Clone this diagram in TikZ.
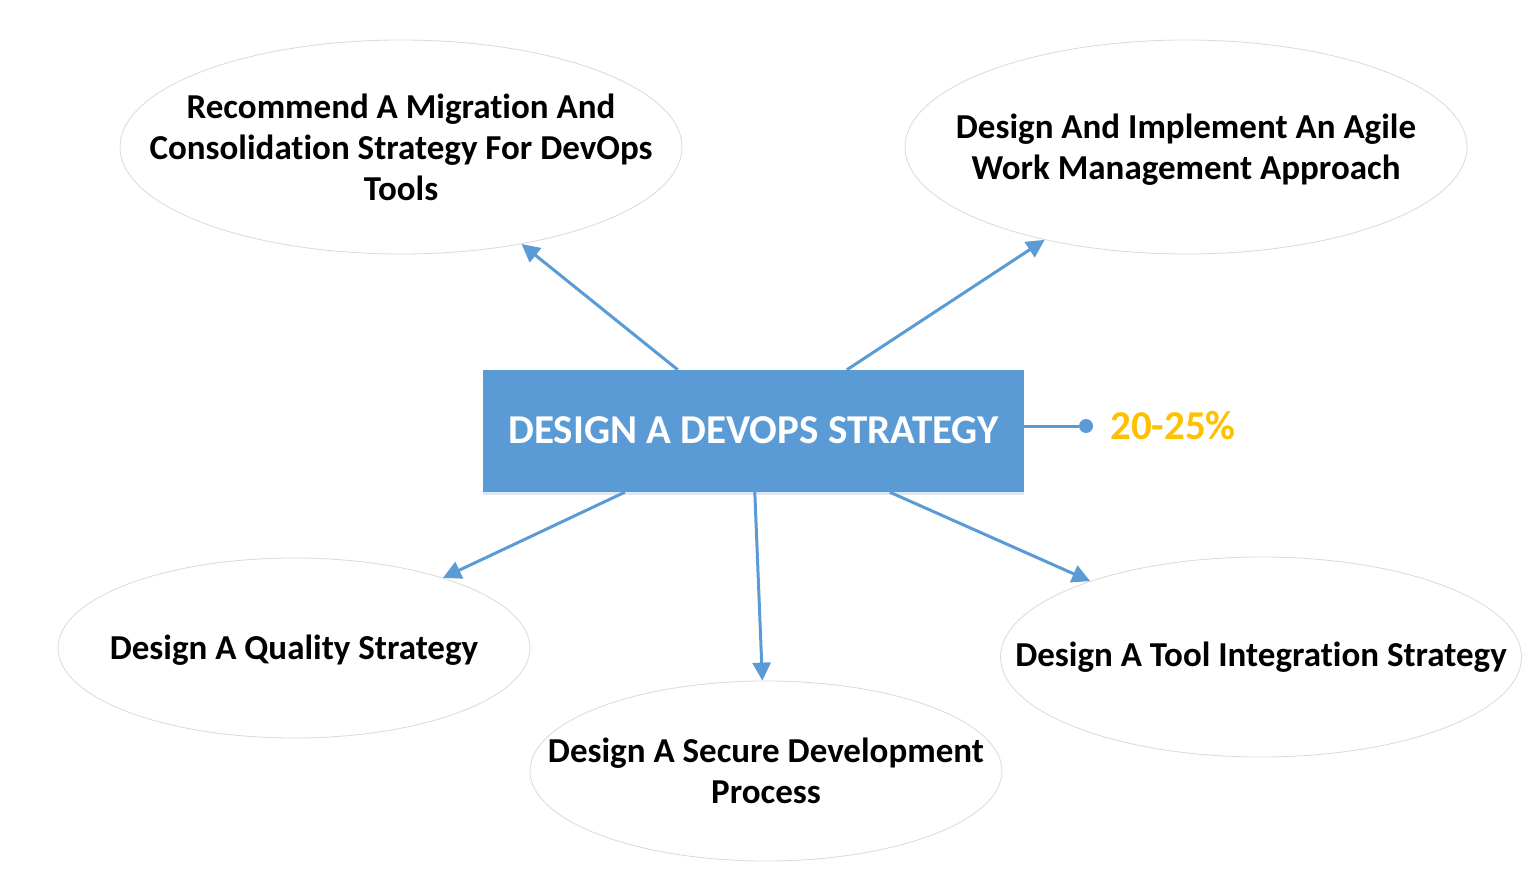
\documentclass[tikz,border=0pt]{standalone}
\usepackage{fontspec}
\setmainfont{Carlito}[Ligatures=NoCommon]
\usepackage{xcolor}
\usetikzlibrary{shapes.geometric,arrows.meta,shadows}
\definecolor{boxblue}{HTML}{5B9BD5}
\definecolor{gold}{HTML}{FFC000}
\definecolor{rimgray}{HTML}{D9D9D9}
\tikzset{topic/.style={ellipse,draw=rimgray,line width=0.8pt,inner sep=0pt},
    topictext/.style={align=center,font=\bfseries\fontsize{35}{41}\selectfont},
    core/.style={fill=boxblue,text=white,minimum width=541pt,
    minimum height=122pt,inner sep=0pt,font=\bfseries\fontsize{41}{46}\selectfont,
    drop shadow={opacity=0.2,shadow xshift=0pt,shadow yshift=-3pt,fill=boxblue!70!gray}},
    link/.style={draw=boxblue,line width=3pt,-{Triangle[length=18pt,width=18pt]}}}

\begin{document}
\begin{tikzpicture}[x=1pt,y=-1pt]
    \useasboundingbox (0,0) rectangle (1536,877);
    \node[core] (box) at (753.5,431) {\raisebox{1pt}{DESIGN A DEVOPS STRATEGY}};
    \node[topic,minimum width=562pt,minimum height=214pt,
        label={[topictext]center:Recommend A Migration And\\Consolidation Strategy For DevOps\\Tools}]
        (migrate) at (401,147) {};
    \node[topic,minimum width=562pt,minimum height=214pt,
        label={[topictext,yshift=-3pt]center:Design And Implement An Agile\\Work Management Approach}]
        (agile) at (1186,147) {};
    \node[topic,minimum width=472pt,minimum height=180pt,
        label={[topictext,yshift=-2pt]center:Design A Quality Strategy}]
        (quality) at (294,648) {};
    \node[topic,minimum width=472pt,minimum height=180pt,
        label={[topictext]center:Design A Secure Development\\Process}]
        (secure) at (766,771) {};
    \node[topic,minimum width=521pt,minimum height=200pt,
        label={[topictext]center:Design A Tool Integration Strategy}]
        (tools) at (1261,657) {};
    % weight of the domain
    \node[circle,fill=boxblue,inner sep=0pt,minimum size=14pt] (dot) at (1086,426) {};
    \node[text=gold,font=\bfseries\fontsize{41}{46}\selectfont] (share) at (1173,426) {20-25\%};
    \draw[draw=boxblue,line width=3pt] ([yshift=5pt]box.east) -- (dot);
    % arrows to the topics
    \draw[link] ([xshift=195pt]box.north west) -- (migrate);
    \draw[link] ([xshift=364pt]box.north west) -- (agile);
    \draw[link] ([xshift=142pt]box.south west) -- (quality);
    \draw[link] ([xshift=272pt]box.south west) -- (secure);
    \draw[link] ([xshift=407pt]box.south west) -- (tools);
\end{tikzpicture}
\end{document}
